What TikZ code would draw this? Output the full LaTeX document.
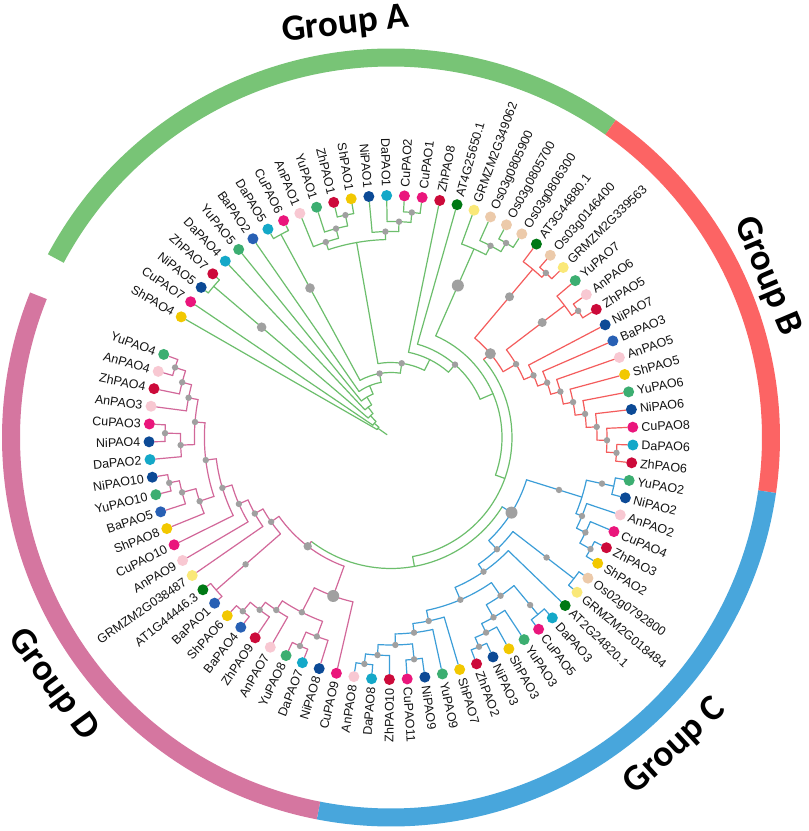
\documentclass[tikz,border=0pt]{standalone}
\usepackage{fontspec}
\setmainfont{Liberation Sans}
\newfontfamily\grpfont{Carlito}
\definecolor{lnA}{RGB}{108,190,108}
\definecolor{lnB}{RGB}{244,92,92}
\definecolor{lnC}{RGB}{60,158,216}
\definecolor{lnD}{RGB}{210,104,154}
\definecolor{cRA}{RGB}{120,196,118}
\definecolor{cRB}{RGB}{252,100,100}
\definecolor{cRC}{RGB}{72,166,220}
\definecolor{cRD}{RGB}{213,118,160}
\definecolor{gdc}{RGB}{160,160,160}
\definecolor{txt}{RGB}{20,20,20}
\definecolor{cYu}{RGB}{60,174,113}
\definecolor{cAn}{RGB}{248,200,210}
\definecolor{cZh}{RGB}{204,10,58}
\definecolor{cSh}{RGB}{242,200,0}
\definecolor{cNi}{RGB}{12,74,150}
\definecolor{cDa}{RGB}{20,168,200}
\definecolor{cCu}{RGB}{234,22,124}
\definecolor{cBa}{RGB}{40,96,180}
\definecolor{cAT}{RGB}{0,120,20}
\definecolor{cGR}{RGB}{250,232,120}
\definecolor{cOs}{RGB}{236,202,170}
\tikzset{
  la/.style={draw=lnA, line width=1.2pt, line cap=round},
  lb/.style={draw=lnB, line width=1.2pt, line cap=round},
  lc/.style={draw=lnC, line width=1.2pt, line cap=round},
  ld/.style={draw=lnD, line width=1.2pt, line cap=round},
  lfdot/.style={circle, inner sep=0pt, minimum size=11pt, draw=none},
  lbl/.style={inner sep=0pt, text height=9pt, text depth=0pt, font=\fontsize{12.5}{14}\selectfont, text=txt},
  grp/.style={font=\grpfont\bfseries\fontsize{37}{40}\selectfont, inner sep=0pt, text=black},
  ringseg/.style={line width=18pt},
}
\newcommand\tbr[4]{\draw[#1] (#2:#3) -- (#2:#4);}
\newcommand\tarc[4]{\draw[#1] (#3:#2) arc[start angle=#3, end angle=#4, radius=#2];}
\newcommand\tlf[4]{\draw[#1] (#2:#3) -- (L#4);}
\newcommand\gdt[3]{\fill[gdc] (#1:#2) circle[radius=#3];}
\newcommand\tleaf[4]{%
  \node[lfdot, fill=#3] (L#1) at (#2:242) {};
  \pgfmathsetmacro\tmpc{cos(#2)}%
  \ifdim\tmpc pt<0pt\relax
    \node[lbl, anchor=east, rotate=#2+180] (T#1) at (#2:250.5) {#4};%
  \else
    \node[lbl, anchor=west, rotate=#2] (T#1) at (#2:250.5) {#4};%
  \fi}
\begin{document}
\begin{tikzpicture}[x=1pt,y=1pt]
\fill[white] (0,0) rectangle (809,831);
\useasboundingbox (0,0) rectangle (809,831);
\begin{scope}[shift={(391,393.5)}]
% ring
\draw[ringseg, cRA] (151.9:380) arc[start angle=151.9, end angle=54.7, radius=380];
\draw[ringseg, cRB] (54.7:380) arc[start angle=54.7, end angle=-8.2, radius=380];
\draw[ringseg, cRC] (-8.2:380) arc[start angle=-8.2, end angle=-101, radius=380];
\draw[ringseg, cRD] (-101:380) arc[start angle=-101, end angle=-201.9, radius=380];
\node[grp, rotate=6.3] (GA) at (96.3:415) {Group A};
\node[grp, rotate=-67.1] (GB) at (23.2:409) {Group B};
\node[grp, rotate=42.6] (GC) at (-47.4:420) {Group C};
\node[grp, rotate=-53.8] (GD) at (-143.8:419) {Group D};
% leaves
\tleaf{0}{150.10}{cSh}{ShPAO4}
\tleaf{1}{145.88}{cCu}{CuPAO7}
\tleaf{2}{141.66}{cNi}{NiPAO5}
\tleaf{3}{137.44}{cZh}{ZhPAO7}
\tleaf{4}{133.22}{cDa}{DaPAO4}
\tleaf{5}{129.01}{cYu}{YuPAO5}
\tleaf{6}{124.79}{cBa}{BaPAO2}
\tleaf{7}{120.57}{cDa}{DaPAO5}
\tleaf{8}{116.35}{cCu}{CuPAO6}
\tleaf{9}{112.13}{cAn}{AnPAO1}
\tleaf{10}{107.91}{cYu}{YuPAO1}
\tleaf{11}{103.69}{cZh}{ZhPAO1}
\tleaf{12}{99.47}{cSh}{ShPAO1}
\tleaf{13}{95.25}{cNi}{NiPAO1}
\tleaf{14}{91.03}{cDa}{DaPAO1}
\tleaf{15}{86.82}{cCu}{CuPAO2}
\tleaf{16}{82.60}{cCu}{CuPAO1}
\tleaf{17}{78.38}{cZh}{ZhPAO8}
\tleaf{18}{74.16}{cAT}{AT4G25650.1}
\tleaf{19}{69.94}{cGR}{GRMZM2G349062}
\tleaf{20}{65.72}{cOs}{Os03g0805900}
\tleaf{21}{61.50}{cOs}{Os03g0805700}
\tleaf{22}{57.28}{cOs}{Os03g0806300}
\tleaf{23}{53.06}{cAT}{AT3G44880.1}
\tleaf{24}{48.84}{cOs}{Os03g0146400}
\tleaf{25}{44.63}{cGR}{GRMZM2G339563}
\tleaf{26}{40.41}{cYu}{YuPAO7}
\tleaf{27}{36.19}{cAn}{AnPAO6}
\tleaf{28}{31.97}{cZh}{ZhPAO5}
\tleaf{29}{27.75}{cNi}{NiPAO7}
\tleaf{30}{23.53}{cBa}{BaPAO3}
\tleaf{31}{19.31}{cAn}{AnPAO5}
\tleaf{32}{15.09}{cSh}{ShPAO5}
\tleaf{33}{10.87}{cYu}{YuPAO6}
\tleaf{34}{6.65}{cNi}{NiPAO6}
\tleaf{35}{2.44}{cCu}{CuPAO8}
\tleaf{36}{-1.78}{cDa}{DaPAO6}
\tleaf{37}{-6.00}{cZh}{ZhPAO6}
\tleaf{38}{-10.22}{cYu}{YuPAO2}
\tleaf{39}{-14.44}{cNi}{NiPAO2}
\tleaf{40}{-18.66}{cAn}{AnPAO2}
\tleaf{41}{-22.88}{cCu}{CuPAO4}
\tleaf{42}{-27.10}{cZh}{ZhPAO3}
\tleaf{43}{-31.32}{cSh}{ShPAO2}
\tleaf{44}{-35.54}{cOs}{Os02g0792800}
\tleaf{45}{-39.76}{cGR}{GRMZM2G018484}
\tleaf{46}{-43.97}{cAT}{AT2G24820.1}
\tleaf{47}{-48.19}{cDa}{DaPAO3}
\tleaf{48}{-52.41}{cCu}{CuPAO5}
\tleaf{49}{-56.63}{cYu}{YuPAO3}
\tleaf{50}{-60.85}{cSh}{ShPAO3}
\tleaf{51}{-65.07}{cNi}{NiPAO3}
\tleaf{52}{-69.29}{cZh}{ZhPAO2}
\tleaf{53}{-73.51}{cSh}{ShPAO7}
\tleaf{54}{-77.73}{cYu}{YuPAO9}
\tleaf{55}{-81.95}{cNi}{NiPAO9}
\tleaf{56}{-86.16}{cCu}{CuPAO11}
\tleaf{57}{-90.38}{cZh}{ZhPAO10}
\tleaf{58}{-94.60}{cDa}{DaPAO8}
\tleaf{59}{-98.82}{cAn}{AnPAO8}
\tleaf{60}{-103.04}{cCu}{CuPAO9}
\tleaf{61}{-107.26}{cNi}{NiPAO8}
\tleaf{62}{-111.48}{cDa}{DaPAO7}
\tleaf{63}{-115.70}{cYu}{YuPAO8}
\tleaf{64}{-119.92}{cAn}{AnPAO7}
\tleaf{65}{-124.14}{cZh}{ZhPAO9}
\tleaf{66}{-128.36}{cBa}{BaPAO4}
\tleaf{67}{-132.58}{cSh}{ShPAO6}
\tleaf{68}{-136.79}{cBa}{BaPAO1}
\tleaf{69}{-141.01}{cAT}{AT1G44446.3}
\tleaf{70}{-145.23}{cGR}{GRMZM2G038487}
\tleaf{71}{-149.45}{cAn}{AnPAO9}
\tleaf{72}{-153.67}{cCu}{CuPAO10}
\tleaf{73}{-157.89}{cSh}{ShPAO8}
\tleaf{74}{-162.11}{cBa}{BaPAO5}
\tleaf{75}{-166.33}{cYu}{YuPAO10}
\tleaf{76}{-170.55}{cNi}{NiPAO10}
\tleaf{77}{-174.77}{cDa}{DaPAO2}
\tleaf{78}{-178.98}{cNi}{NiPAO4}
\tleaf{79}{-183.20}{cCu}{CuPAO3}
\tleaf{80}{-187.42}{cAn}{AnPAO3}
\tleaf{81}{-191.64}{cZh}{ZhPAO4}
\tleaf{82}{-195.86}{cAn}{AnPAO4}
\tleaf{83}{-200.08}{cYu}{YuPAO4}
% ---- green: group A and backbone
\tarc{la}{16}{150.10}{139.57}
\tlf{la}{150.10}{16}{0}
\tbr{la}{139.57}{16}{22}
\tbr{la}{144.84}{5}{16}
\tarc{la}{22}{145.88}{133.26}
\tlf{la}{145.88}{22}{1}
\tbr{la}{133.26}{22}{30}
\tarc{la}{30}{139.55}{126.97}
\tbr{la}{139.55}{30}{233}
\tbr{la}{126.97}{30}{38}
\tarc{la}{233}{141.66}{137.44}
\tlf{la}{141.66}{233}{2}
\tlf{la}{137.44}{233}{3}
\tarc{la}{38}{133.22}{120.73}
\tlf{la}{133.22}{38}{4}
\tbr{la}{120.73}{38}{47}
\tarc{la}{47}{129.01}{112.45}
\tlf{la}{129.01}{47}{5}
\tbr{la}{112.45}{47}{56}
\tarc{la}{56}{124.79}{100.12}
\tlf{la}{124.79}{56}{6}
\tbr{la}{100.12}{56}{65}
\tarc{la}{65}{118.46}{81.77}
\tbr{la}{118.46}{65}{231}
\tbr{la}{81.77}{65}{75}
\tarc{la}{231}{120.57}{116.35}
\tlf{la}{120.57}{231}{7}
\tlf{la}{116.35}{231}{8}
\tarc{la}{75}{100.00}{63.54}
\tbr{la}{100.00}{75}{198}
\tbr{la}{63.54}{75}{87}
\tarc{la}{198}{108.44}{91.56}
\tbr{la}{108.44}{198}{206}
\tbr{la}{91.56}{198}{206}
\tarc{la}{206}{112.13}{104.75}
\tlf{la}{112.13}{206}{9}
\tbr{la}{104.75}{206}{216}
\tarc{la}{216}{107.91}{101.58}
\tlf{la}{107.91}{216}{10}
\tbr{la}{101.58}{216}{227}
\tarc{la}{227}{103.69}{99.47}
\tlf{la}{103.69}{227}{11}
\tlf{la}{99.47}{227}{12}
\tarc{la}{206}{95.25}{87.87}
\tlf{la}{95.25}{206}{13}
\tbr{la}{87.87}{206}{216}
\tarc{la}{216}{91.03}{84.71}
\tlf{la}{91.03}{216}{14}
\tbr{la}{84.71}{216}{226}
\tarc{la}{226}{86.82}{82.60}
\tlf{la}{86.82}{226}{15}
\tlf{la}{82.60}{226}{16}
\tarc{la}{87}{78.38}{48.70}
\tlf{la}{78.38}{87}{17}
\tbr{la}{48.70}{87}{97}
\tarc{la}{97}{74.16}{23.24}
\tlf{la}{74.16}{97}{18}
\tbr{la}{23.24}{97}{111}
\tarc{la}{111}{66.25}{-19.78}
\tbr{la}{66.25}{111}{206}
\tbr{la}{-19.78}{111}{121}
\tarc{la}{206}{69.94}{62.56}
\tlf{la}{69.94}{206}{19}
\tbr{la}{62.56}{206}{216}
\tarc{la}{216}{65.72}{59.39}
\tlf{la}{65.72}{216}{20}
\tbr{la}{59.39}{216}{226}
\tarc{la}{226}{61.50}{57.28}
\tlf{la}{61.50}{226}{21}
\tlf{la}{57.28}{226}{22}
\tarc{la}{121}{40.15}{-79.70}
\tbr{lb}{40.15}{121}{130}
\tbr{la}{-79.70}{121}{131}
\tarc{la}{131}{-31.94}{-127.45}
\tbr{lc}{-31.94}{131}{142}
\tbr{ld}{-127.45}{131}{137}
% ---- red: group B
\tarc{lb}{130}{49.90}{30.40}
\tbr{lb}{49.90}{130}{220}
\tbr{lb}{30.40}{130}{145}
\tarc{lb}{220}{53.06}{46.74}
\tlf{lb}{53.06}{220}{23}
\tbr{lb}{46.74}{220}{226}
\tarc{lb}{226}{48.84}{44.63}
\tlf{lb}{48.84}{226}{24}
\tlf{lb}{44.63}{226}{25}
\tarc{lb}{145}{37.25}{23.55}
\tbr{lb}{37.25}{145}{218}
\tbr{lb}{23.55}{145}{155.5}
\tarc{lb}{218}{40.41}{34.08}
\tlf{lb}{40.41}{218}{26}
\tbr{lb}{34.08}{218}{226}
\tarc{lb}{226}{36.19}{31.97}
\tlf{lb}{36.19}{226}{27}
\tlf{lb}{31.97}{226}{28}
\tarc{lb}{155.5}{27.75}{19.34}
\tlf{lb}{27.75}{155.5}{29}
\tbr{lb}{19.34}{155.5}{165.5}
\tarc{lb}{165.5}{23.53}{15.16}
\tlf{lb}{23.53}{165.5}{30}
\tbr{lb}{15.16}{165.5}{175.5}
\tarc{lb}{175.5}{19.31}{11.00}
\tlf{lb}{19.31}{175.5}{31}
\tbr{lb}{11.00}{175.5}{185.5}
\tarc{lb}{185.5}{15.09}{6.92}
\tlf{lb}{15.09}{185.5}{32}
\tbr{lb}{6.92}{185.5}{195.5}
\tarc{lb}{195.5}{10.87}{2.96}
\tlf{lb}{10.87}{195.5}{33}
\tbr{lb}{2.96}{195.5}{206}
\tarc{lb}{206}{6.65}{-0.73}
\tlf{lb}{6.65}{206}{34}
\tbr{lb}{-0.73}{206}{216}
\tarc{lb}{216}{2.44}{-3.89}
\tlf{lb}{2.44}{216}{35}
\tbr{lb}{-3.89}{216}{226}
\tarc{lb}{226}{-1.78}{-6.00}
\tlf{lb}{-1.78}{226}{36}
\tlf{lb}{-6.00}{226}{37}
% ---- blue: group C
\tarc{lc}{142}{-17.34}{-46.53}
\tbr{lc}{-17.34}{142}{200}
\tbr{lc}{-46.53}{142}{154}
\tarc{lc}{200}{-12.33}{-22.35}
\tbr{lc}{-12.33}{200}{228}
\tbr{lc}{-22.35}{200}{206.5}
\tarc{lc}{228}{-10.22}{-14.44}
\tlf{lc}{-10.22}{228}{38}
\tlf{lc}{-14.44}{228}{39}
\tarc{lc}{206.5}{-18.66}{-26.05}
\tlf{lc}{-18.66}{206.5}{40}
\tbr{lc}{-26.05}{206.5}{216.4}
\tarc{lc}{216.4}{-22.88}{-29.21}
\tlf{lc}{-22.88}{216.4}{41}
\tbr{lc}{-29.21}{216.4}{228.6}
\tarc{lc}{228.6}{-27.10}{-31.32}
\tlf{lc}{-27.10}{228.6}{42}
\tlf{lc}{-31.32}{228.6}{43}
\tarc{lc}{154}{-37.65}{-55.41}
\tbr{lc}{-37.65}{154}{231}
\tbr{lc}{-55.41}{154}{163}
\tarc{lc}{231}{-35.54}{-39.76}
\tlf{lc}{-35.54}{231}{44}
\tlf{lc}{-39.76}{231}{45}
\tarc{lc}{163}{-43.97}{-66.85}
\tlf{lc}{-43.97}{163}{46}
\tbr{lc}{-66.85}{163}{176.5}
\tarc{lc}{176.5}{-55.31}{-78.39}
\tbr{lc}{-55.31}{176.5}{192.5}
\tbr{lc}{-78.39}{176.5}{187.3}
\tarc{lc}{192.5}{-50.30}{-60.32}
\tbr{lc}{-50.30}{192.5}{230}
\tbr{lc}{-60.32}{192.5}{207}
\tarc{lc}{230}{-48.19}{-52.41}
\tlf{lc}{-48.19}{230}{47}
\tlf{lc}{-52.41}{230}{48}
\tarc{lc}{207}{-56.63}{-64.02}
\tlf{lc}{-56.63}{207}{49}
\tbr{lc}{-64.02}{207}{217}
\tarc{lc}{217}{-60.85}{-67.18}
\tlf{lc}{-60.85}{217}{50}
\tbr{lc}{-67.18}{217}{227}
\tarc{lc}{227}{-65.07}{-69.29}
\tlf{lc}{-65.07}{227}{51}
\tlf{lc}{-69.29}{227}{52}
\tarc{lc}{187.3}{-73.51}{-83.27}
\tlf{lc}{-73.51}{187.3}{53}
\tbr{lc}{-83.27}{187.3}{196.5}
\tarc{lc}{196.5}{-77.73}{-88.80}
\tlf{lc}{-77.73}{196.5}{54}
\tbr{lc}{-88.80}{196.5}{207.5}
\tarc{lc}{207.5}{-84.06}{-93.55}
\tbr{lc}{-84.06}{207.5}{223}
\tbr{lc}{-93.55}{207.5}{218}
\tarc{lc}{223}{-81.95}{-86.16}
\tlf{lc}{-81.95}{223}{55}
\tlf{lc}{-86.16}{223}{56}
\tarc{lc}{218}{-90.38}{-96.71}
\tlf{lc}{-90.38}{218}{57}
\tbr{lc}{-96.71}{218}{228}
\tarc{lc}{228}{-94.60}{-98.82}
\tlf{lc}{-94.60}{228}{58}
\tlf{lc}{-98.82}{228}{59}
% ---- pink: group D
\tarc{ld}{137}{-110.03}{-144.86}
\tbr{ld}{-110.03}{137}{168.7}
\tbr{ld}{-144.86}{137}{146.6}
\tarc{ld}{168.7}{-103.04}{-117.03}
\tlf{ld}{-103.04}{168.7}{60}
\tbr{ld}{-117.03}{168.7}{196.2}
\tarc{ld}{196.2}{-110.43}{-123.62}
\tbr{ld}{-110.43}{196.2}{212.4}
\tbr{ld}{-123.62}{196.2}{207.2}
\tarc{ld}{212.4}{-107.26}{-113.59}
\tlf{ld}{-107.26}{212.4}{61}
\tbr{ld}{-113.59}{212.4}{227.5}
\tarc{ld}{227.5}{-111.48}{-115.70}
\tlf{ld}{-111.48}{227.5}{62}
\tlf{ld}{-115.70}{227.5}{63}
\tarc{ld}{207.2}{-119.92}{-127.31}
\tlf{ld}{-119.92}{207.2}{64}
\tbr{ld}{-127.31}{207.2}{216.7}
\tarc{ld}{216.7}{-124.14}{-130.47}
\tlf{ld}{-124.14}{216.7}{65}
\tbr{ld}{-130.47}{216.7}{228.4}
\tarc{ld}{228.4}{-128.36}{-132.58}
\tlf{ld}{-128.36}{228.4}{66}
\tlf{ld}{-132.58}{228.4}{67}
\tarc{ld}{146.6}{-138.90}{-150.82}
\tbr{ld}{-138.90}{146.6}{232}
\tbr{ld}{-150.82}{146.6}{156}
\tarc{ld}{232}{-136.79}{-141.01}
\tlf{ld}{-136.79}{232}{68}
\tlf{ld}{-141.01}{232}{69}
\tarc{ld}{156}{-145.23}{-156.41}
\tlf{ld}{-145.23}{156}{70}
\tbr{ld}{-156.41}{156}{166}
\tarc{ld}{166}{-149.45}{-163.36}
\tlf{ld}{-149.45}{166}{71}
\tbr{ld}{-163.36}{166}{176}
\tarc{ld}{176}{-153.67}{-173.05}
\tlf{ld}{-153.67}{176}{72}
\tbr{ld}{-173.05}{176}{186.6}
\tarc{ld}{186.6}{-161.58}{-184.52}
\tbr{ld}{-161.58}{186.6}{201.7}
\tbr{ld}{-184.52}{186.6}{196.6}
\tarc{ld}{201.7}{-157.89}{-165.28}
\tlf{ld}{-157.89}{201.7}{73}
\tbr{ld}{-165.28}{201.7}{216}
\tarc{ld}{216}{-162.11}{-168.44}
\tlf{ld}{-162.11}{216}{74}
\tbr{ld}{-168.44}{216}{226.4}
\tarc{ld}{226.4}{-166.33}{-170.55}
\tlf{ld}{-166.33}{226.4}{75}
\tlf{ld}{-170.55}{226.4}{76}
\tarc{ld}{196.6}{-177.93}{-191.11}
\tbr{ld}{-177.93}{196.6}{210.5}
\tbr{ld}{-191.11}{196.6}{206.3}
\tarc{ld}{210.5}{-174.77}{-181.09}
\tlf{ld}{-174.77}{210.5}{77}
\tbr{ld}{-181.09}{210.5}{226}
\tarc{ld}{226}{-178.98}{-183.20}
\tlf{ld}{-178.98}{226}{78}
\tlf{ld}{-183.20}{226}{79}
\tarc{ld}{206.3}{-187.42}{-194.81}
\tlf{ld}{-187.42}{206.3}{80}
\tbr{ld}{-194.81}{206.3}{216}
\tarc{ld}{216}{-191.64}{-197.97}
\tlf{ld}{-191.64}{216}{81}
\tbr{ld}{-197.97}{216}{227}
\tarc{ld}{227}{-195.86}{-200.08}
\tlf{ld}{-195.86}{227}{82}
\tlf{ld}{-200.08}{227}{83}
% ---- support dots
\gdt{100.12}{65}{3.2}
\gdt{81.77}{75}{3.2}
\gdt{108.44}{206}{3.2}
\gdt{104.75}{216}{3.2}
\gdt{101.58}{227}{3.2}
\gdt{91.56}{206}{3.2}
\gdt{87.87}{216}{3.2}
\gdt{84.71}{226}{3.2}
\gdt{48.70}{97}{3.2}
\gdt{62.56}{216}{3.2}
\gdt{59.39}{226}{3.2}
\gdt{139.55}{170}{4.8}
\gdt{118.46}{170}{4.8}
\gdt{66.25}{166}{6}
\gdt{40.15}{130}{5.5}
\gdt{49.90}{184}{4.5}
\gdt{37.25}{190}{4.5}
\gdt{46.74}{226}{3.2}
\gdt{34.08}{226}{3.2}
\gdt{30.40}{145}{3.2}
\gdt{23.55}{155.5}{3.2}
\gdt{19.34}{165.5}{3.2}
\gdt{15.16}{175.5}{3.2}
\gdt{11.00}{185.5}{3.2}
\gdt{6.92}{195.5}{3.2}
\gdt{2.96}{206}{3.2}
\gdt{-0.73}{216}{3.2}
\gdt{-3.89}{226}{3.2}
\gdt{-31.94}{142}{6}
\gdt{-17.34}{176}{3.2}
\gdt{-12.33}{216}{3.2}
\gdt{-22.35}{206.5}{3.2}
\gdt{-26.05}{216.4}{3.2}
\gdt{-29.21}{228.6}{3.2}
\gdt{-46.53}{154}{3.2}
\gdt{-37.65}{196.5}{3.2}
\gdt{-55.41}{163}{3.2}
\gdt{-66.85}{176.5}{3.2}
\gdt{-55.31}{192.5}{3.2}
\gdt{-50.30}{217.8}{3.2}
\gdt{-60.32}{207}{3.2}
\gdt{-64.02}{217}{3.2}
\gdt{-67.18}{227}{3.2}
\gdt{-78.39}{187.3}{3.2}
\gdt{-83.27}{196.5}{3.2}
\gdt{-88.80}{207.5}{3.2}
\gdt{-84.06}{223}{3.2}
\gdt{-93.55}{218}{3.2}
\gdt{-96.71}{228}{3.2}
\gdt{-110.03}{168.7}{6}
\gdt{-127.45}{137}{4.2}
\gdt{-117.03}{196.2}{3.2}
\gdt{-110.43}{212.4}{3.2}
\gdt{-113.59}{227.5}{3.2}
\gdt{-123.62}{207.2}{3.2}
\gdt{-127.31}{216.7}{3.2}
\gdt{-130.47}{228.4}{3.2}
\gdt{-144.86}{146.6}{3.2}
\gdt{-138.90}{193}{3.2}
\gdt{-150.82}{156}{3.2}
\gdt{-156.41}{166}{3.2}
\gdt{-163.36}{176}{3.2}
\gdt{-173.05}{186.6}{3.2}
\gdt{-161.58}{201.7}{3.2}
\gdt{-165.28}{216}{3.2}
\gdt{-168.44}{226.4}{3.2}
\gdt{-184.52}{196.6}{3.2}
\gdt{-177.93}{210.5}{3.2}
\gdt{-181.09}{226}{3.2}
\gdt{-191.11}{206.3}{3.2}
\gdt{-194.81}{216}{3.2}
\gdt{-197.97}{227}{3.2}
\end{scope}
\end{tikzpicture}
\end{document}
